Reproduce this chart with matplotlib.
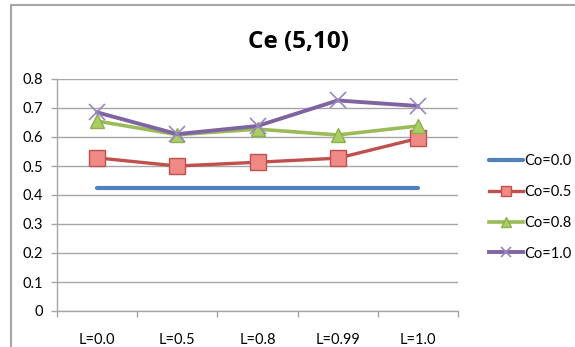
import matplotlib
matplotlib.use("Agg")
import matplotlib.pyplot as plt
from matplotlib.patches import Rectangle
import numpy as np

plt.rcParams['font.family'] = ['Lato', 'DejaVu Sans']

categories = ["L=0.0", "L=0.5", "L=0.8", "L=0.99", "L=1.0"]
co_00 = [0.425, 0.425, 0.425, 0.425, 0.425]
co_05 = [0.528, 0.500, 0.513, 0.527, 0.595]
co_08 = [0.655, 0.608, 0.627, 0.607, 0.638]
co_10 = [0.685, 0.610, 0.638, 0.726, 0.707]
series_labels = ["Co=0.0", "Co=0.5", "Co=0.8", "Co=1.0"]

fig = plt.figure(figsize=(5.75, 3.47), dpi=100)
fig.patch.set_facecolor("white")

# chart-area border (only top and left edges fall inside the canvas)
fig.add_artist(Rectangle((10.5 / 575, -0.1), 1.2, 1 - 5 / 347 + 0.1,
                         transform=fig.transFigure, fill=False,
                         edgecolor="#A6A6A6", linewidth=1.5))

ax = fig.add_axes([57 / 575, 1 - 311 / 347, (458 - 57) / 575, (311 - 79) / 347])
x = np.arange(len(categories))

ax.plot(x, co_00, color="#4F81BD", lw=3.0, solid_capstyle="round",
        label=series_labels[0], zorder=3)
ax.plot(x, co_05, color="#C0504D", lw=2.4, marker="s", ms=11,
        mfc="#F08A87", mec="#C0504D", mew=1.0, label=series_labels[1], zorder=4)
ax.plot(x, co_08, color="#9BBB59", lw=2.6, marker="^", ms=10.5,
        mfc="#A9CF62", mec="#8FAE50", mew=1.0, label=series_labels[2], zorder=5)
ax.plot(x, co_10, color="#8064A2", lw=2.8, marker="x", ms=11,
        mec="#9A86C0", mew=1.2, label=series_labels[3], zorder=6)

ax.set_xlim(-0.5, len(categories) - 0.5)
ax.set_ylim(0, 0.8)
ax.set_yticks(np.arange(0, 0.81, 0.1))
ax.set_yticklabels(["0"] + [f"{v:.1f}" for v in np.arange(0.1, 0.81, 0.1)])
ax.yaxis.grid(True, color="#A6A6A6", lw=1.0)
ax.set_axisbelow(True)

ax.set_xticks(x)
ax.set_xticklabels(categories)
ax.set_xticks(np.arange(-0.5, len(categories), 1.0), minor=True)
ax.tick_params(axis="x", which="major", length=0, pad=16, labelsize=10.5)
ax.tick_params(axis="x", which="minor", length=4, width=1, color="#A6A6A6")
ax.tick_params(axis="y", length=4, width=1, color="#A6A6A6", pad=6, labelsize=10.5)

for side in ("top", "right"):
    ax.spines[side].set_visible(False)
for side in ("left", "bottom"):
    ax.spines[side].set_color("#A6A6A6")
    ax.spines[side].set_linewidth(1.0)

fig.text(298 / 575, 1 - 42 / 347, "Ce (5,10)", ha="center", va="center",
         fontsize=17.5, fontweight="bold", family=["Open Sans", "DejaVu Sans"])

leg = fig.legend(loc="upper left", bbox_to_anchor=(482 / 575, 1 - 147 / 347),
                 frameon=False, fontsize=10.5, handlelength=2.3, handletextpad=0.1,
                 labelspacing=1.15, borderpad=0, markerscale=0.7)

fig.savefig("out.png", dpi=100, facecolor="white")
